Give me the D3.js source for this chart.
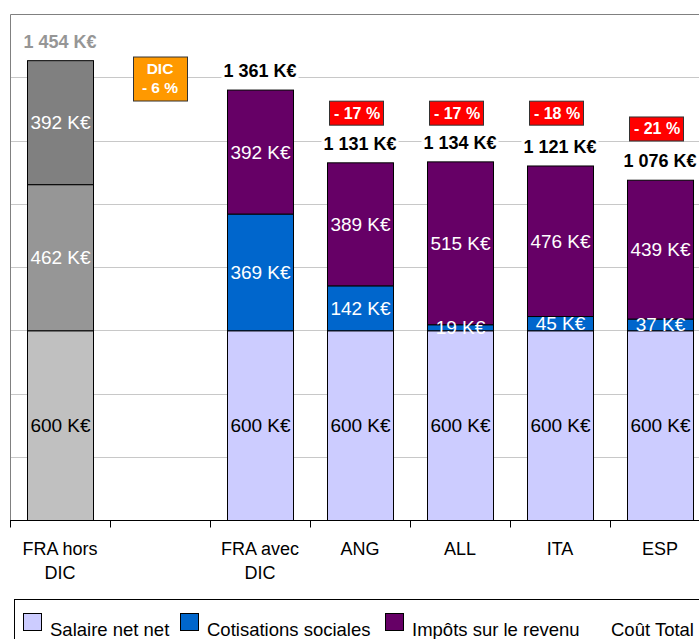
<!DOCTYPE html>
<html>
<head>
<meta charset="utf-8">
<script src="https://cdnjs.cloudflare.com/ajax/libs/d3/7.8.5/d3.min.js"></script>
<style>
  html, body { margin: 0; padding: 0; background: #fff; }
  svg { display: block; font-family: "Liberation Sans", Arial, sans-serif; }
</style>
</head>
<body>
<svg width="699" height="639"></svg>
<script>
// categories (the empty one is the gap holding the DIC box)
const categories = ["FRA hors DIC", "", "FRA avec DIC", "ANG", "ALL", "ITA", "ESP"];
const tickLabels = [["FRA hors", "DIC"], [], ["FRA avec", "DIC"], ["ANG"], ["ALL"], ["ITA"], ["ESP"]];

// series, K€
const salaireNet  = [600, null, 600, 600, 600, 600, 600];
const cotisations = [462, null, 369, 142, 19, 45, 37];
const impots      = [392, null, 392, 389, 515, 476, 439];
const coutTotal   = [1454, null, 1361, 1131, 1134, 1121, 1076];

// difference boxes vs FRA hors DIC, anchored at a K€ level
const ecarts      = [null, null, null, "- 17 %", "- 17 %", "- 18 %", "- 21 %"];
const ecartLevel  = [null, null, null, 1288, 1288, 1288, 1238];
const dicLines    = ["DIC", "- 6 %"];
const dicLevel    = 1396;

const gridValues  = [200, 400, 600, 800, 1000, 1200, 1400];
const legendNames = ["Salaire net net", "Cotisations sociales", "Impôts sur le revenu", "Coût Total"];

const seriesColors = ["#ccccff", "#0066cc", "#660066"];
const grayColors   = ["#c0c0c0", "#969696", "#808080"];
const labelColors  = ["#000", "#fff", "#fff"];

const svg = d3.select("svg");
const plotLeft = 10, plotRight = 710, plotTop = 14, plotBottom = 520;

const x = d3.scaleBand()
  .domain(categories)
  .range([plotLeft, plotRight])
  .paddingInner(0.34)
  .paddingOuter(0.17);

const xTicks = d3.scaleBand().domain(categories).range([plotLeft, plotRight]);

const y = d3.scaleLinear()
  .domain([0, 1600])
  .range([plotBottom, plotTop]);

// gridlines
svg.append("g")
  .selectAll("line")
  .data(gridValues)
  .enter()
  .append("line")
  .attr("x1", plotLeft).attr("x2", plotRight)
  .attr("y1", d => Math.round(y(d)) + 0.5).attr("y2", d => Math.round(y(d)) + 0.5)
  .attr("stroke", "#c8c8c8")
  .attr("stroke-width", 1);

// stacked bars
let rows = categories.map((c, i) => ({
  cat: c,
  idx: i,
  vals: [salaireNet[i], cotisations[i], impots[i]]
})).filter(r => r.vals[0] != null);

let segs = [];
rows.forEach(r => {
  let base = 0;
  r.vals.forEach((v, k) => {
    segs.push({ cat: r.cat, idx: r.idx, k: k, y0: base, y1: base + v, v: v });
    base += v;
  });
});

svg.append("g")
  .selectAll("rect")
  .data(segs)
  .enter()
  .append("rect")
  .attr("x", d => Math.round(x(d.cat)) + 0.5)
  .attr("y", d => y(d.y1) + 0.5)
  .attr("width", Math.round(x.bandwidth()))
  .attr("height", d => y(d.y0) - y(d.y1))
  .attr("fill", d => d.idx === 0 ? grayColors[d.k] : seriesColors[d.k])
  .attr("stroke", "#000")
  .attr("stroke-width", 1);

// segment labels
svg.append("g")
  .selectAll("text")
  .data(segs)
  .enter()
  .append("text")
  .attr("x", d => x(d.cat) + x.bandwidth() / 2 + 0.5)
  .attr("y", d => (y(d.y0) + y(d.y1)) / 2 + 7)
  .attr("text-anchor", "middle")
  .attr("font-size", "19px")
  .attr("fill", d => labelColors[d.k])
  .text(d => d.v + " K€");

// frame (left + top)
svg.append("path")
  .attr("d", `M${plotLeft + 0.5},${plotBottom} V${plotTop + 0.5} H${plotRight}`)
  .attr("fill", "none")
  .attr("stroke", "#808080");

// category axis
let xAxis = svg.append("g").attr("transform", `translate(0, ${plotBottom + 0.5})`);
xAxis.append("line")
  .attr("x1", plotLeft).attr("x2", plotRight)
  .attr("stroke", "#000");
xAxis.selectAll(".tick")
  .data(categories)
  .enter()
  .append("line")
  .attr("x1", d => Math.round(xTicks(d)) + 0.5)
  .attr("x2", d => Math.round(xTicks(d)) + 0.5)
  .attr("y1", 0).attr("y2", 7)
  .attr("stroke", "#000");

categories.forEach((c, i) => {
  let t = svg.append("text")
    .attr("text-anchor", "middle")
    .attr("font-size", "18px")
    .attr("fill", "#000");
  tickLabels[i].forEach((line, j) => {
    t.append("tspan")
      .attr("x", xTicks(c) + xTicks.bandwidth() / 2)
      .attr("y", 555 + j * 24)
      .text(line);
  });
});

// totals with white background
let totals = categories.map((c, i) => ({ cat: c, idx: i, v: coutTotal[i] })).filter(d => d.v != null);
let totalG = svg.append("g");
totals.forEach(d => {
  let g = totalG.append("g");
  let t = g.append("text")
    .attr("x", x(d.cat) + x.bandwidth() / 2)
    .attr("y", y(d.v) - 12.5)
    .attr("text-anchor", "middle")
    .attr("font-size", "18px")
    .attr("font-weight", "bold")
    .attr("fill", d.idx === 0 ? "#969696" : "#000")
    .text(d3.format(",")(d.v).replace(",", " ") + " K€");
  let b = t.node().getBBox();
  g.insert("rect", "text")
    .attr("x", b.x - 2).attr("y", b.y)
    .attr("width", b.width + 4).attr("height", b.height)
    .attr("fill", "#fff");
});

// ecart boxes
let boxes = categories.map((c, i) => ({ cat: c, txt: ecarts[i], lvl: ecartLevel[i] })).filter(d => d.txt);
let boxG = svg.append("g")
  .selectAll("g")
  .data(boxes)
  .enter()
  .append("g")
  .attr("transform", d => `translate(${x(d.cat) + x.bandwidth() / 2 - 3}, ${y(d.lvl)})`);
boxG.append("rect")
  .attr("x", -27.5).attr("y", -11.5)
  .attr("width", 54).attr("height", 24)
  .attr("fill", "#ff0000")
  .attr("stroke", "#333");
boxG.append("text")
  .attr("y", 6)
  .attr("text-anchor", "middle")
  .attr("font-size", "16px")
  .attr("font-weight", "bold")
  .attr("fill", "#fff")
  .text(d => d.txt);

// DIC box
let dic = svg.append("g")
  .attr("transform", `translate(${x("") + x.bandwidth() / 2}, ${y(dicLevel)})`);
dic.append("rect")
  .attr("x", -26.5).attr("y", -21.5)
  .attr("width", 54).attr("height", 44)
  .attr("fill", "#ff9900")
  .attr("stroke", "#333");
dicLines.forEach((l, j) => {
  dic.append("text")
    .attr("y", -5 + j * 19)
    .attr("text-anchor", "middle")
    .attr("font-size", "15.5px")
    .attr("font-weight", "bold")
    .attr("fill", "#fff")
    .text(l);
});

// legend
let legend = svg.append("g");
legend.append("rect")
  .attr("x", 14.5).attr("y", 599.5)
  .attr("width", 720).attr("height", 80)
  .attr("fill", "#fff")
  .attr("stroke", "#000");

let legendX = [23, 180, 385, 584];
legendNames.forEach((name, i) => {
  let lx = legendX[i];
  if (i < 3) {
    legend.append("rect")
      .attr("x", lx + 0.5).attr("y", 613.5)
      .attr("width", 18).attr("height", 17)
      .attr("fill", seriesColors[i])
      .attr("stroke", "#000");
  }
  legend.append("text")
    .attr("x", lx + 27)
    .attr("y", 636)
    .attr("font-size", "18.5px")
    .attr("fill", "#000")
    .text(name);
});
</script>
</body>
</html>
